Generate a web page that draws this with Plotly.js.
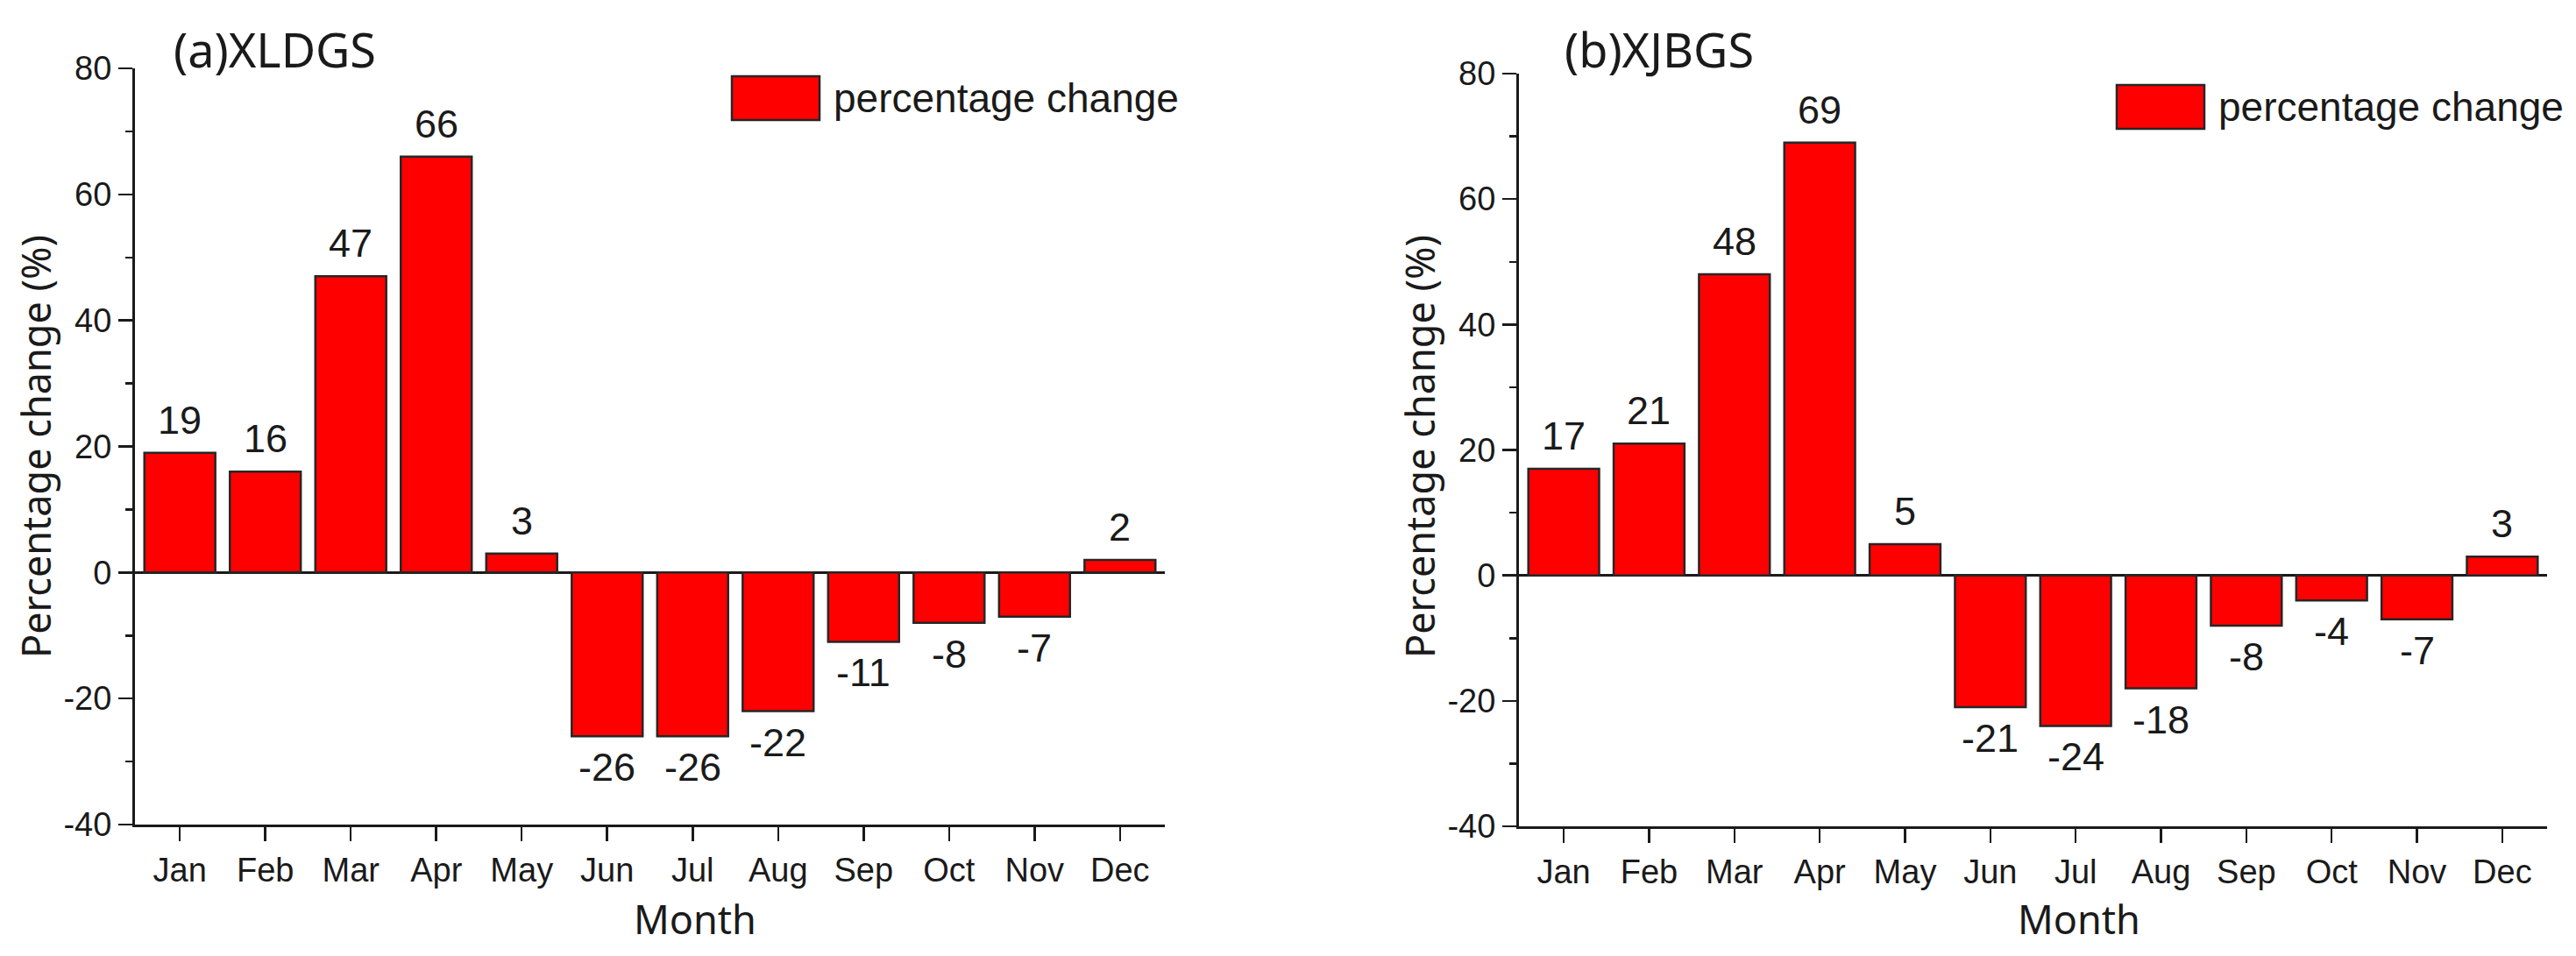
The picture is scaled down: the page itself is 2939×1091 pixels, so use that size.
<!DOCTYPE html>
<html>
<head>
<meta charset="utf-8">
<script src="https://cdn.plot.ly/plotly-3.0.1.min.js"></script>
<style>
    html, body { margin: 0; padding: 0; background: #fff; }
    #plot { width: 2939px; height: 1091px; }
</style>
</head>
<body>
<div id="plot"></div>
<script>
var months = ['Jan', 'Feb', 'Mar', 'Apr', 'May', 'Jun', 'Jul', 'Aug', 'Sep', 'Oct', 'Nov', 'Dec'];
var xldgsChange = [19, 16, 47, 66, 3, -26, -26, -22, -11, -8, -7, 2];
var xjbgsChange = [17, 21, 48, 69, 5, -21, -24, -18, -8, -4, -7, 3];
var yTicks = [-40, -20, 0, 20, 40, 60, 80];
var panelTitles = ['(a)XLDGS', '(b)XJBGS'];
var seriesName = 'percentage change';
var yTitle = 'Percentage change (%)';
var xTitle = 'Month';

(function () {
    var W = 2939, H = 1091;
    // pixel -> paper helpers
    function px(x) { return x / W; }
    function py(y) { return 1 - y / H; }

    var ink = '#1a1a1a';
    var tickFont = {family: 'Liberation Sans, Arial, sans-serif', size: 38, color: ink};
    var labelFont = {family: 'Liberation Sans, Arial, sans-serif', size: 45, color: ink};
    var titleFont = {family: 'Noto Sans, Segoe UI, sans-serif', size: 54, color: ink};
    var axisTitleFont = {family: 'Noto Sans, Segoe UI, sans-serif', size: 45, color: ink};

    var panels = [
        {values: xldgsChange, title: panelTitles[0], x0: 154, x1: 1329, y0: 78, y1: 941,
            titleX: 196, legendBox: [835, 87, 935, 137], legendY: 112},
        {values: xjbgsChange, title: panelTitles[1], x0: 1733, x1: 2906, y0: 84, y1: 943,
            titleX: 1783, legendBox: [2415, 97, 2515, 147], legendY: 122}
    ];

    var data = [];
    var annotations = [];
    var shapes = [];
    var layout = {
        width: W,
        height: H,
        margin: {l: 0, r: 0, t: 0, b: 0, pad: 0},
        paper_bgcolor: '#fff',
        plot_bgcolor: '#fff',
        showlegend: false,
        bargap: 0.17
    };

    panels.forEach(function (p, i) {
        var sfx = i === 0 ? '' : String(i + 1);
        var xa = 'x' + sfx, ya = 'y' + sfx;

        data.push({
            type: 'bar',
            name: seriesName,
            x: months,
            y: p.values,
            xaxis: xa,
            yaxis: ya,
            marker: {color: '#ff0000', line: {color: '#262626', width: 2.5}},
            hoverinfo: 'x+y'
        });

        layout['xaxis' + sfx] = {
            domain: [px(p.x0), px(p.x1)],
            anchor: ya,
            type: 'category',
            range: [-0.525, 11.525],
            showline: true, linecolor: ink, linewidth: 3,
            ticks: 'outside', ticklen: 16, tickwidth: 2.5, tickcolor: ink,
            tickfont: tickFont,
            showgrid: false, zeroline: false,
            fixedrange: true
        };
        layout['yaxis' + sfx] = {
            domain: [py(p.y1), py(p.y0)],
            anchor: xa,
            range: [-40, 80],
            tickmode: 'array',
            tickvals: yTicks,
            ticktext: yTicks.map(String),
            showline: true, linecolor: ink, linewidth: 3,
            ticks: 'outside', ticklen: 16, tickwidth: 2.5, tickcolor: ink,
            minor: {ticks: 'outside', ticklen: 8, tickwidth: 2.5, tickcolor: ink, dtick: 10, showgrid: false},
            tickfont: tickFont,
            showgrid: false,
            zeroline: true, zerolinecolor: ink, zerolinewidth: 3,
            fixedrange: true
        };

        // value labels above / below each bar
        p.values.forEach(function (v, k) {
            annotations.push({
                xref: xa, yref: ya,
                x: months[k], y: v,
                text: String(v),
                showarrow: false,
                font: labelFont,
                yanchor: v >= 0 ? 'bottom' : 'top',
                yshift: v >= 0 ? 10 : -8
            });
        });

        // panel title
        annotations.push({
            xref: 'paper', yref: 'paper',
            x: px(p.titleX), y: py(56),
            xanchor: 'left', yanchor: 'middle',
            text: p.title, showarrow: false,
            font: titleFont
        });

        // axis titles
        annotations.push({
            xref: 'paper', yref: 'paper',
            x: px(p.x0 - 114), y: py(510),
            xanchor: 'center', yanchor: 'middle',
            textangle: -90,
            text: yTitle, showarrow: false,
            font: axisTitleFont
        });
        annotations.push({
            xref: 'paper', yref: 'paper',
            x: px(p.x0 + 639), y: py(1048),
            xanchor: 'center', yanchor: 'middle',
            text: xTitle, showarrow: false,
            font: axisTitleFont
        });

        // legend swatch + label
        shapes.push({
            type: 'rect', xref: 'paper', yref: 'paper',
            x0: px(p.legendBox[0]), x1: px(p.legendBox[2]),
            y0: py(p.legendBox[3]), y1: py(p.legendBox[1]),
            fillcolor: '#ff0000', line: {color: '#262626', width: 2.5}
        });
        annotations.push({
            xref: 'paper', yref: 'paper',
            x: px(p.legendBox[2] + 14), y: py(p.legendY),
            xanchor: 'left', yanchor: 'middle',
            text: seriesName, showarrow: false,
            font: {family: 'Liberation Sans, Arial, sans-serif', size: 46, color: ink}
        });
    });

    layout.annotations = annotations;
    layout.shapes = shapes;

    Plotly.newPlot('plot', data, layout, {displayModeBar: false, staticPlot: true});
})();
</script>
</body>
</html>
